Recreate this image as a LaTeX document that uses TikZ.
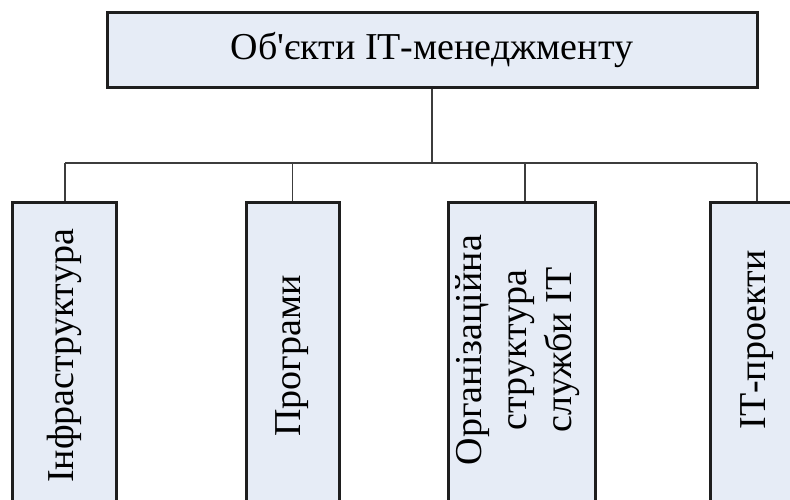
\documentclass[tikz,border=0pt]{standalone}
\usepackage{fontspec}
\setmainfont{Liberation Serif}[Ligatures=TeXOff]

\definecolor{boxfill}{HTML}{E6ECF6}
\definecolor{boxline}{HTML}{1E1E1E}
\definecolor{wirecol}{HTML}{3C3C3C}

\tikzset{
  unit/.style={draw=boxline, line width=3pt, fill=boxfill, inner sep=0pt},
  wire/.style={draw=wirecol, line width=1.5pt},
  caption/.style={font=\fontsize{38}{45}\selectfont, inner sep=0pt, align=center, text=black},
}

\begin{document}
\begin{tikzpicture}[x=1pt,y=1pt]
\useasboundingbox (0,0) rectangle (790,499);
\clip (0,0) rectangle (790,499);

% root of the hierarchy
\node[unit, minimum width=650, minimum height=75] (root) at (432,448.5) {};
\node[caption] (rootlabel) at (432,448.5) {Об'єкти ІТ-менеджменту};

% the four branches (they run past the lower edge)
\node[unit, anchor=north, minimum width=104, minimum height=304] (b1) at (64.5,298) {};
\node[unit, anchor=north, minimum width=93,  minimum height=304] (b2) at (292.5,298) {};
\node[unit, anchor=north, minimum width=147, minimum height=304] (b3) at (521.5,298) {};
\node[unit, anchor=north, minimum width=94,  minimum height=304] (b4) at (757,298) {};

\node[caption, rotate=90] (l1) at (64,143) {Інфраструктура};
\node[caption, rotate=90] (l2) at (292.5,143) {Програми};
\node[caption, rotate=90] (l3) at (517.5,149) {Організаційна\\структура\\служби ІТ};
\node[caption, rotate=90] (l4) at (757,159) {ІТ-проекти};

% connectors: trunk, bus and drops
\coordinate (hub) at (432,336);
\coordinate (j1) at (65,336);
\coordinate (j2) at (292.5,336);
\coordinate (j3) at (525,336);
\coordinate (j4) at (757,336);

\draw[wire] (root.south) -- (hub);
\draw[wire] (j1) -- (j4);
\draw[wire] (j1) -- (j1 |- b1.north);
\draw[wire] (j2) -- (j2 |- b2.north);
\draw[wire] (j3) -- (j3 |- b3.north);
\draw[wire] (j4) -- (j4 |- b4.north);
\end{tikzpicture}
\end{document}
